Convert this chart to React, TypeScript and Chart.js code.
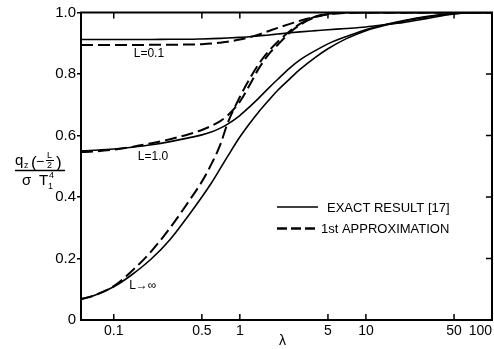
import { useEffect, useRef } from "react";
import { Chart, registerables } from "chart.js";

Chart.register(...registerables);

// λ sample points (shared by every curve)
const lambda = [0.055, 0.07, 0.1, 0.14, 0.2, 0.28, 0.4, 0.5, 0.6, 0.7, 0.8, 1.0, 1.2, 1.4, 1.7, 2, 2.5, 3, 4, 5, 7, 10, 14, 20, 30, 50, 70, 100];

// exact result [17]
const exactL01 = [0.912, 0.912, 0.912, 0.912, 0.912, 0.913, 0.913, 0.914, 0.915, 0.916, 0.917, 0.919, 0.921, 0.924, 0.927, 0.93, 0.934, 0.937, 0.941, 0.944, 0.948, 0.953, 0.96, 0.968, 0.98, 0.995, 0.999, 1.0];
const exactL1 = [0.55, 0.552, 0.556, 0.562, 0.57, 0.58, 0.593, 0.602, 0.612, 0.624, 0.637, 0.665, 0.694, 0.72, 0.755, 0.783, 0.82, 0.846, 0.877, 0.898, 0.922, 0.944, 0.96, 0.974, 0.987, 0.997, 1.0, 1.0];
const exactInf = [0.068, 0.08, 0.108, 0.148, 0.2, 0.262, 0.345, 0.4, 0.448, 0.493, 0.532, 0.595, 0.64, 0.675, 0.715, 0.747, 0.785, 0.815, 0.855, 0.882, 0.915, 0.941, 0.958, 0.972, 0.985, 0.996, 1.0, 1.0];

// 1st approximation
const approxL01 = [0.894, 0.894, 0.894, 0.894, 0.895, 0.895, 0.896, 0.897, 0.899, 0.902, 0.905, 0.912, 0.92, 0.928, 0.94, 0.95, 0.963, 0.973, 0.986, 0.994, 0.999, 1.0, 1.0, 1.0, 1.0, 1.0, 1.0, 1.0];
const approxL1 = [0.546, 0.548, 0.554, 0.563, 0.575, 0.588, 0.605, 0.618, 0.632, 0.647, 0.665, 0.71, 0.765, 0.815, 0.865, 0.895, 0.935, 0.96, 0.985, 0.995, 1.0, 1.0, 1.0, 1.0, 1.0, 1.0, 1.0, 1.0];
const approxInf = [0.068, 0.08, 0.11, 0.16, 0.225, 0.3, 0.39, 0.45, 0.51, 0.57, 0.64, 0.725, 0.785, 0.83, 0.875, 0.905, 0.94, 0.963, 0.987, 0.996, 1.0, 1.0, 1.0, 1.0, 1.0, 1.0, 1.0, 1.0];

const xTickValues = [0.1, 0.5, 1, 5, 10, 50, 100];
const xTickLabels = ["0.1", "0.5", "1", "5", "10", "50", "100"];
const yTickValues = [0, 0.2, 0.4, 0.6, 0.8, 1.0];
const yTickLabels = ["0", "0.2", "0.4", "0.6", "0.8", "1.0"];

// curve annotations, anchored in data coordinates (λ, value)
const curveLabels = [
  { text: "L=0.1", lam: 0.19, val: 0.865 },
  { text: "L=1.0", lam: 0.205, val: 0.53 },
  { text: "L\u2192\u221E", lam: 0.17, val: 0.11 },
];
const legendLabels = ["EXACT RESULT [17]", "1st APPROXIMATION"];
const xTitle = "\u03BB";

const FONT = '"Liberation Sans", "DejaVu Sans", sans-serif';

const toPoints = (vals: number[]) => lambda.map((l, i) => ({ x: l, y: vals[i] }));

const decor = {
  id: "decor",
  afterDatasetsDraw(chart: any) {
    const { ctx, chartArea: a, scales } = chart;
    const xs = scales.x;
    const ys = scales.y;
    ctx.save();
    ctx.strokeStyle = "#000";
    ctx.fillStyle = "#000";
    ctx.setLineDash([]);
    // frame
    ctx.lineWidth = 2;
    ctx.strokeRect(a.left, a.top, a.right - a.left, a.bottom - a.top);
    // inward ticks
    ctx.lineWidth = 1.5;
    ctx.beginPath();
    for (const v of xTickValues) {
      if (v >= 100) continue;
      const px = xs.getPixelForValue(v);
      ctx.moveTo(px, a.bottom);
      ctx.lineTo(px, a.bottom - 6);
      ctx.moveTo(px, a.top);
      ctx.lineTo(px, a.top + 6);
    }
    for (const v of yTickValues) {
      if (v <= 0 || v >= 1) continue;
      const py = ys.getPixelForValue(v);
      ctx.moveTo(a.right, py);
      ctx.lineTo(a.right - 6, py);
    }
    ctx.stroke();

    // x tick labels
    ctx.font = `14px ${FONT}`;
    ctx.textAlign = "center";
    ctx.textBaseline = "middle";
    xTickValues.forEach((v, i) => {
      let px = xs.getPixelForValue(v);
      const w = ctx.measureText(xTickLabels[i]).width;
      if (px + w / 2 > a.right) px = a.right - w / 2;
      ctx.fillText(xTickLabels[i], px, a.bottom + 11);
    });
    // x title
    ctx.font = `14px ${FONT}`;
    ctx.fillText(xTitle, (a.left + a.right) / 2 - 4, a.bottom + 21);

    // curve labels
    ctx.font = `12px ${FONT}`;
    for (const c of curveLabels) {
      ctx.fillText(c.text, xs.getPixelForValue(c.lam), ys.getPixelForValue(c.val));
    }

    // legend
    const lx0 = a.left + 196;
    const lx1 = a.left + 237;
    ctx.lineWidth = 1.5;
    ctx.beginPath();
    ctx.moveTo(lx0, 207);
    ctx.lineTo(lx1, 207);
    ctx.stroke();
    ctx.lineWidth = 2.5;
    ctx.setLineDash([10, 4]);
    ctx.beginPath();
    ctx.moveTo(lx0, 228.5);
    ctx.lineTo(lx1 + 1, 228.5);
    ctx.stroke();
    ctx.setLineDash([]);
    ctx.font = `13px ${FONT}`;
    ctx.textAlign = "left";
    ctx.fillText(legendLabels[0], lx1 + 9, 208.5);
    ctx.fillText(legendLabels[1], lx1 + 3, 229);

    // y title: q_z(-L/2) / σ T_1^4
    ctx.textBaseline = "alphabetic";
    ctx.font = `15px ${FONT}`;
    ctx.fillText("q", 15, 165);
    ctx.font = `9px ${FONT}`;
    ctx.fillText("z", 24, 168);
    ctx.font = `17px ${FONT}`;
    ctx.fillText("(", 31, 168);
    ctx.font = `14px ${FONT}`;
    ctx.fillText("\u2212", 36, 166);
    ctx.font = `9px ${FONT}`;
    ctx.fillText("L", 47, 158);
    ctx.fillText("2", 47, 168);
    ctx.lineWidth = 1;
    ctx.beginPath();
    ctx.moveTo(46, 160.5);
    ctx.lineTo(54, 160.5);
    ctx.stroke();
    ctx.font = `17px ${FONT}`;
    ctx.fillText(")", 56, 168);
    ctx.lineWidth = 1.5;
    ctx.beginPath();
    ctx.moveTo(15, 170.5);
    ctx.lineTo(65, 170.5);
    ctx.stroke();
    ctx.font = `15px ${FONT}`;
    ctx.fillText("\u03C3", 22, 185);
    ctx.fillText("T", 39, 185);
    ctx.font = `9px ${FONT}`;
    ctx.fillText("1", 48, 189);
    ctx.fillText("4", 49, 178);
    ctx.restore();
  },
};

export default function App() {
  const ref = useRef<HTMLCanvasElement>(null);
  useEffect(() => {
    const line = (vals: number[], dashed: boolean) => ({
      data: toPoints(vals),
      borderColor: "#000",
      borderWidth: dashed ? 2 : 1.6,
      borderDash: dashed ? [12, 5] : [],
      pointRadius: 0,
      fill: false,
      cubicInterpolationMode: "monotone" as const,
    });
    const chart = new Chart(ref.current!, {
      type: "line",
      data: {
        datasets: [
          line(exactL01, false),
          line(exactL1, false),
          line(exactInf, false),
          line(approxL01, true),
          line(approxL1, true),
          line(approxInf, true),
        ],
      },
      options: {
        responsive: false,
        animation: false,
        devicePixelRatio: 1,
        layout: { padding: { top: 12.5, right: 2, left: 0, bottom: 0 } },
        plugins: { legend: { display: false }, tooltip: { enabled: false } },
        scales: {
          x: {
            type: "logarithmic",
            min: 0.055,
            max: 100,
            afterBuildTicks: (s: any) => {
              s.ticks = xTickValues.map((v) => ({ value: v }));
            },
            afterFit: (s: any) => {
              s.height = 29;
            },
            ticks: { display: false },
            grid: { display: false, drawTicks: false },
            border: { display: false },
          },
          y: {
            type: "linear",
            min: 0,
            max: 1,
            afterBuildTicks: (s: any) => {
              s.ticks = yTickValues.map((v) => ({ value: v }));
            },
            afterFit: (s: any) => {
              s.width = 81;
            },
            ticks: {
              callback: (_v: any, i: number) => yTickLabels[i],
              color: "#000",
              font: { family: FONT, size: 15 },
              padding: 1,
            },
            grid: {
              drawOnChartArea: false,
              drawTicks: true,
              tickLength: 4,
              lineWidth: 1.5,
              color: (c: any) => (c.tick && c.tick.value === 0 ? "rgba(0,0,0,0)" : "#000"),
            },
            border: { display: false },
          },
        },
      },
      plugins: [decor],
    } as any);
    return () => chart.destroy();
  }, []);
  return (
    <div style={{ position: "fixed", left: 0, top: 0, width: 494, height: 349, background: "#fff" }}>
      <canvas ref={ref} width={494} height={349} style={{ display: "block", width: 494, height: 349 }} />
    </div>
  );
}
